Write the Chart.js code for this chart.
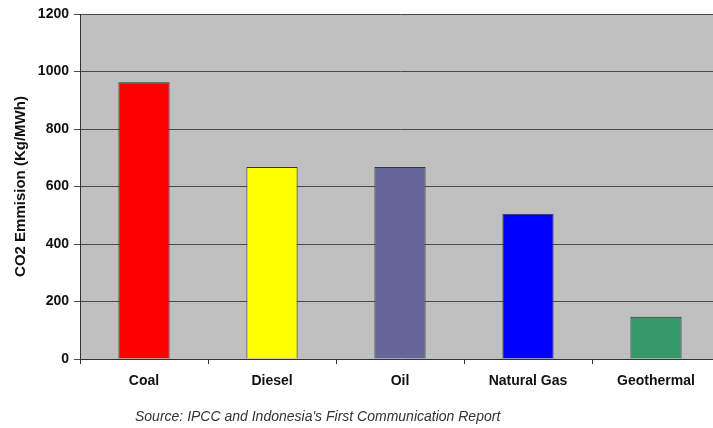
<!DOCTYPE html>
<html>
<head>
<meta charset="utf-8">
<script src="https://cdn.jsdelivr.net/npm/chart.js@4/dist/chart.umd.min.js"></script>
<style>
html,body{margin:0;padding:0;background:#fff;overflow:hidden;}
#wrap{width:713px;height:428px;position:relative;overflow:hidden;}
</style>
</head>
<body>
<div id="wrap"><canvas id="c" width="720" height="428"></canvas></div>
<script>
const categories = ["Coal", "Diesel", "Oil", "Natural Gas", "Geothermal"];
const emissions = [963, 668, 668, 505, 147];
const barColors = ["#FF0000", "#FFFF00", "#666699", "#0000FF", "#339966"];
const yTicks = [0, 200, 400, 600, 800, 1000, 1200];
const yTitle = "CO2 Emmision (Kg/MWh)";
const sourceNote = "Source: IPCC and Indonesia's First Communication Report";

const FONT = '"Liberation Sans", Arial, sans-serif';

const bgPlugin = {
  id: 'bg',
  beforeDraw(chart) {
    const {ctx, chartArea: a} = chart;
    ctx.save();
    ctx.fillStyle = '#C0C0C0';
    ctx.fillRect(a.left, a.top, a.right - a.left, a.bottom - a.top);
    ctx.restore();
  },
  afterDraw(chart) {
    const {ctx} = chart;
    ctx.save();
    ctx.font = 'italic 14px ' + FONT;
    ctx.fillStyle = '#333';
    ctx.textBaseline = 'alphabetic';
    ctx.textAlign = 'left';
    ctx.fillText(sourceNote, 135, 421);
    ctx.restore();
  }
};

new Chart(document.getElementById('c'), {
  type: 'bar',
  data: {
    labels: categories,
    datasets: [{
      data: emissions,
      backgroundColor: barColors,
      borderColor: '#333333',
      borderWidth: 1,
      borderSkipped: 'bottom',
      barPercentage: 0.8,
      categoryPercentage: 0.5
    }]
  },
  options: {
    responsive: false,
    animation: false,
    devicePixelRatio: 1,
    layout: {padding: {left: 4, top: 14, right: 0, bottom: 0}},
    plugins: {legend: {display: false}, tooltip: {enabled: false}},
    scales: {
      x: {
        offset: true,
        grid: {offset: true, drawOnChartArea: false, drawTicks: true, tickLength: 5, color: '#333'},
        border: {color: '#333', width: 1},
        ticks: {
          color: '#111',
          font: {family: FONT, size: 14, weight: 'bold'},
          padding: 9,
          maxRotation: 0
        },
        afterFit(s) { s.height = 69; }
      },
      y: {
        min: 0,
        max: 1200,
        afterBuildTicks(s) { s.ticks = yTicks.map(v => ({value: v})); },
        grid: {color: '#4a4a4a', lineWidth: 1, tickLength: 6, drawTicks: true},
        border: {color: '#333', width: 1},
        ticks: {
          color: '#111',
          font: {family: FONT, size: 14, weight: 'bold'},
          padding: 5,
          callback: (v) => String(v)
        },
        title: {
          display: true,
          text: yTitle,
          color: '#111',
          font: {family: FONT, size: 15, weight: 'bold'},
          padding: {top: 8, bottom: 0}
        },
        afterFit(s) { s.width = 76; }
      }
    }
  },
  plugins: [bgPlugin]
});
</script>
</body>
</html>
